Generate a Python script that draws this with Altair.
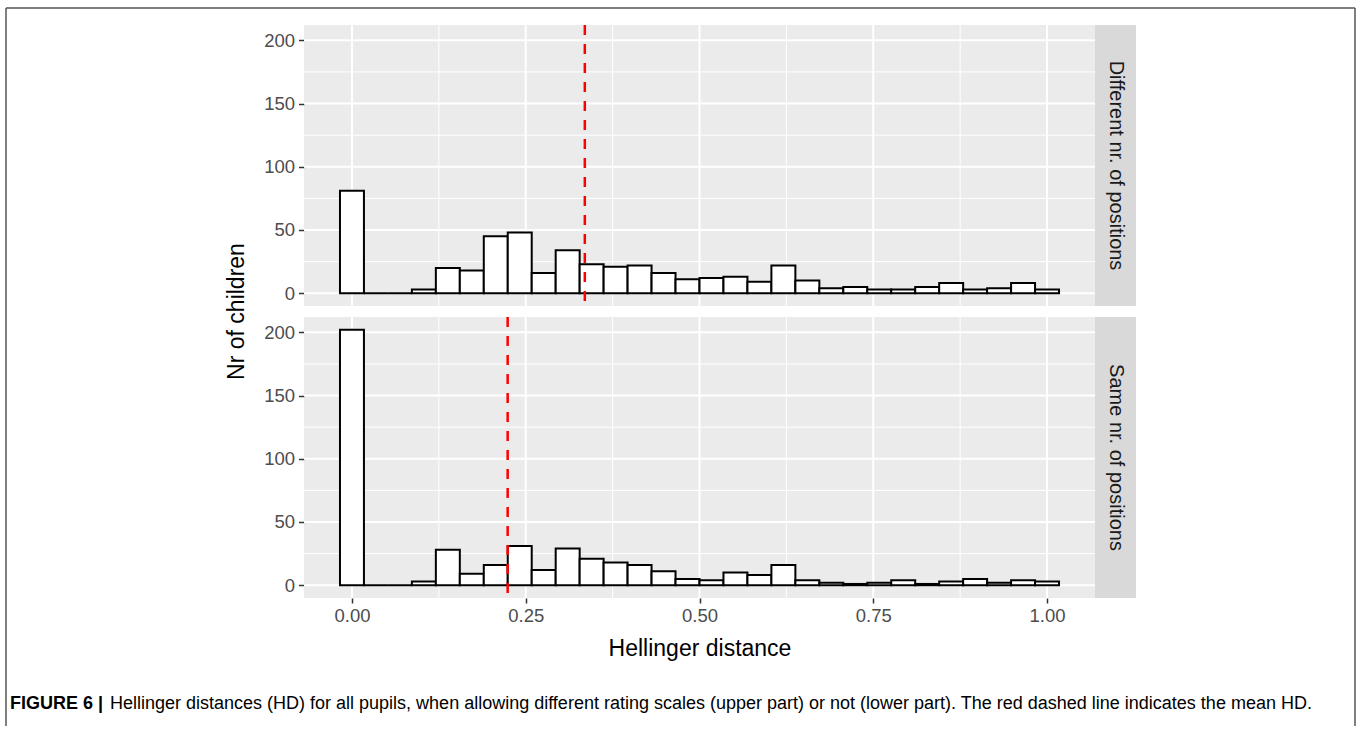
import altair as alt
import pandas as pd

# ---- data ----
bin_centers = [i / 29 for i in range(30)]   # 30 histogram bins, centred 0..1
bin_half = 1 / 58
counts_different = [81, 0, 0, 3, 20, 18, 45, 48, 16, 34, 23, 21, 22, 16, 11,
                    12, 13, 9, 22, 10, 4, 5, 3, 3, 5, 8, 3, 4, 8, 3]
counts_same = [202, 0, 0, 3, 28, 9, 16, 31, 12, 29, 21, 18, 16, 11, 5,
               4, 10, 8, 16, 4, 2, 1, 2, 4, 1, 3, 5, 2, 4, 3]
mean_different = 0.335
mean_same = 0.224
x_major = [0.0, 0.25, 0.5, 0.75, 1.0]
x_minor = [0.125, 0.375, 0.625, 0.875]
y_major = [0, 50, 100, 150, 200]
y_minor = [25, 75, 125, 175]
strip_labels = ["Different nr. of positions", "Same nr. of positions"]
x_title = "Hellinger distance"
y_title = "Nr of children"
caption_bold = "FIGURE 6 |"
caption_text = ("Hellinger distances (HD) for all pupils, when allowing different rating "
                "scales (upper part) or not (lower part). The red dashed line indicates the mean HD.")

W, H = 791, 281
GAP = 11
TOP_X, TOP_Y = 304, 25   # page position of the top panel

xs = alt.Scale(domain=[-0.069, 1.069], nice=False, zero=False)
ys = alt.Scale(domain=[-10.1, 212.1], nice=False, zero=False)


def panel(counts, mean, strip, bottom):
    df = pd.DataFrame({
        "lo": [c - bin_half for c in bin_centers],
        "hi": [c + bin_half for c in bin_centers],
        "n": counts,
        "z": [0] * len(counts),
    })
    if bottom:
        xaxis = alt.Axis(values=x_major, format=".2f", title=x_title, grid=False, domain=False,
                         tickColor="#333333", tickSize=5, tickWidth=1.5,
                         labelColor="#4D4D4D", labelFontSize=18.5, labelPadding=3,
                         labelFont="Liberation Sans", titleFont="Liberation Sans",
                         titleFontSize=23, titleFontWeight="normal", titleColor="#000000",
                         titlePadding=13)
    else:
        xaxis = None
    yaxis = alt.Axis(values=y_major, title=None, grid=False, domain=False,
                     tickColor="#333333", tickSize=5.5, tickWidth=1.5,
                     labelColor="#4D4D4D", labelFontSize=18.5, labelPadding=4,
                     labelFont="Liberation Sans")

    vmaj = alt.Chart(pd.DataFrame({"v": x_major})).mark_rule(color="white", strokeWidth=2).encode(
        x=alt.X("v:Q", scale=xs, axis=xaxis))
    vmin = alt.Chart(pd.DataFrame({"v": x_minor})).mark_rule(color="white", strokeWidth=1).encode(
        x=alt.X("v:Q", scale=xs, axis=xaxis))
    hmaj = alt.Chart(pd.DataFrame({"v": y_major})).mark_rule(color="white", strokeWidth=2).encode(
        y=alt.Y("v:Q", scale=ys, axis=yaxis))
    hmin = alt.Chart(pd.DataFrame({"v": y_minor})).mark_rule(color="white", strokeWidth=1).encode(
        y=alt.Y("v:Q", scale=ys, axis=yaxis))

    bars = alt.Chart(df).mark_rect(fill="white", stroke="black", strokeWidth=2).encode(
        x=alt.X("lo:Q", scale=xs, axis=xaxis),
        x2="hi:Q",
        y=alt.Y("z:Q", scale=ys, axis=yaxis),
        y2="n:Q",
    )
    mean_rule = alt.Chart(pd.DataFrame({"m": [mean]})).mark_rule(
        color="#FF0000", strokeWidth=2.5, strokeDash=[10, 9]).encode(
        x=alt.X("m:Q", scale=xs, axis=xaxis))
    strip_bg = alt.Chart(pd.DataFrame({"s": [strip]})).mark_rect(fill="#D9D9D9").encode(
        x=alt.value(W), x2=alt.value(W + 41), y=alt.value(0), y2=alt.value(H))
    strip_txt = alt.Chart(pd.DataFrame({"s": [strip]})).mark_text(
        angle=90, fontSize=20, color="#1A1A1A", font="Liberation Sans",
        align="center", baseline="middle").encode(
        text="s:N", x=alt.value(W + 20.5), y=alt.value(H / 2))
    layers = [vmin, hmin, vmaj, hmaj, bars, mean_rule, strip_bg, strip_txt]
    return alt.layer(*layers).properties(width=W, height=H)


top = panel(counts_different, mean_different, strip_labels[0], False)
bottom = panel(counts_same, mean_same, strip_labels[1], True)

# decorations: figure frame, y title and caption (top panel coordinates)
frame_col = "#555555"
frame_left = alt.Chart(pd.DataFrame({"a": [0]})).mark_rule(color=frame_col, strokeWidth=1.5).encode(
    x=alt.value(6 - TOP_X), y=alt.value(8 - TOP_Y), y2=alt.value(726 - TOP_Y))
frame_right = alt.Chart(pd.DataFrame({"a": [0]})).mark_rule(color=frame_col, strokeWidth=1.5).encode(
    x=alt.value(1355 - TOP_X), y=alt.value(8 - TOP_Y), y2=alt.value(726 - TOP_Y))
frame_top = alt.Chart(pd.DataFrame({"a": [0]})).mark_rule(color=frame_col, strokeWidth=1.5).encode(
    x=alt.value(6 - TOP_X), x2=alt.value(1355 - TOP_X), y=alt.value(8 - TOP_Y))
ytitle = alt.Chart(pd.DataFrame({"t": [y_title]})).mark_text(
    angle=270, fontSize=23, color="black", font="Liberation Sans",
    align="center", baseline="middle").encode(
    text="t:N", x=alt.value(237 - TOP_X), y=alt.value((25 + 598) / 2 - TOP_Y))
cap_b = alt.Chart(pd.DataFrame({"t": [caption_bold]})).mark_text(
    fontSize=18, fontWeight="bold", color="black", font="Liberation Sans",
    align="left", baseline="middle").encode(
    text="t:N", x=alt.value(10 - TOP_X), y=alt.value(704 - TOP_Y))
cap_t = alt.Chart(pd.DataFrame({"t": [caption_text]})).mark_text(
    fontSize=18, color="black", font="Liberation Sans",
    align="left", baseline="middle").encode(
    text="t:N", x=alt.value(110 - TOP_X), y=alt.value(704 - TOP_Y))

top = alt.layer(top, frame_left, frame_right, frame_top, ytitle, cap_b, cap_t)

chart = alt.vconcat(top, bottom, spacing=GAP, bounds="flush").properties(
    padding={"left": 5, "top": 7, "right": 1, "bottom": 0}
).configure(background="white").configure_view(fill="#EBEBEB", strokeWidth=0)

chart.save("out.html", embed_options={"renderer": "svg", "actions": False})
